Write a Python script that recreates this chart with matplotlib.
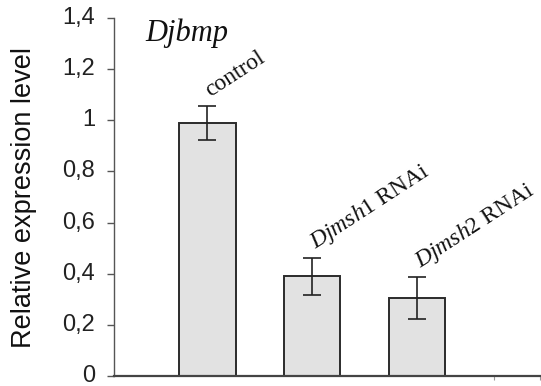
import matplotlib
matplotlib.use("Agg")
import matplotlib.pyplot as plt
import numpy as np

plt.rcParams["mathtext.fontset"] = "custom"
plt.rcParams["mathtext.it"] = "Liberation Serif:italic"
plt.rcParams["mathtext.rm"] = "Liberation Serif"

categories = ["control", "Djmsh1 RNAi", "Djmsh2 RNAi"]
values = [0.99, 0.39, 0.305]
errors = [0.067, 0.072, 0.083]
yticks = [0, 0.2, 0.4, 0.6, 0.8, 1.0, 1.2, 1.4]
ytick_labels = ["0", "0,2", "0,4", "0,6", "0,8", "1", "1,2", "1,4"]

fig = plt.figure(figsize=(5.41, 3.86), dpi=100)
ax = fig.add_axes([0.211, 0.026, 0.789, 0.927])

x = np.arange(len(categories))
ax.bar(x, values, width=0.54, color="#e2e2e2", edgecolor="#2b2b2b", linewidth=1.4, zorder=2)
ax.errorbar(x, values, yerr=errors, fmt="none", ecolor="#222222", elinewidth=1.2,
            capsize=6.5, capthick=1.2, zorder=3)

ax.set_xlim(-0.886, 3.18)
ax.set_ylim(0, 1.4)
ax.set_yticks(yticks)
ax.set_yticklabels(ytick_labels, fontfamily="Liberation Sans", fontsize=17, color="#222222",
                   va="center")
ax.set_xticks([2.73, 3.17])
ax.set_xticklabels([])
ax.tick_params(axis="y", direction="out", length=4.8, width=1.0, color="#555555", pad=9)
ax.tick_params(axis="x", direction="out", length=3, width=0.8, color="#999999")

for s in ["top", "right"]:
    ax.spines[s].set_visible(False)
ax.spines["left"].set_color("#555555")
ax.spines["bottom"].set_color("#444444")
ax.spines["left"].set_linewidth(1.0)
ax.spines["bottom"].set_linewidth(1.6)

ax.set_ylabel("Relative expression level", fontfamily="Liberation Sans", fontsize=19.5,
              color="#111111", labelpad=18)

# category labels
labels_parts = [("control", ""), ("Djmsh1", " RNAi"), ("Djmsh2", " RNAi")]
for xi, v, e, (it, rm) in zip(x, values, errors, labels_parts):
    if it == "control":
        txt = "control"
    else:
        txt = r"$\mathit{" + it + "}$" + rm
    ax.text(xi + 0.03, v + e + 0.035, txt, rotation=33, rotation_mode="anchor",
            ha="left", va="baseline", fontfamily="Liberation Serif", fontsize=17,
            color="#111111")

ax.text(0.073, 0.935, "Djbmp", transform=ax.transAxes, fontfamily="Liberation Serif",
        fontstyle="italic", fontsize=22, color="#111111", ha="left", va="baseline")

fig.savefig("out.png", dpi=100)
